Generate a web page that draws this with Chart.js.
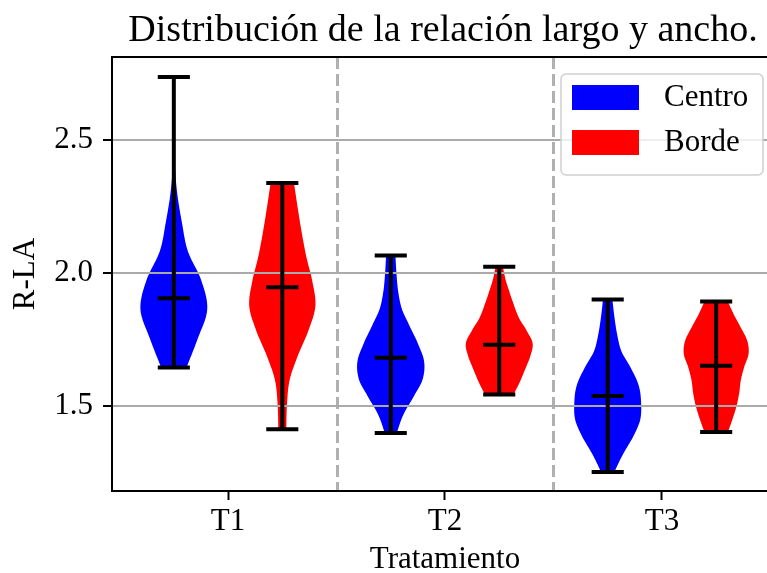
<!DOCTYPE html>
<html>
<head>
<meta charset="utf-8">
<script src="https://cdn.jsdelivr.net/npm/chart.js@4"></script>
<style>
  html, body { margin: 0; padding: 0; background: #fff; overflow: hidden; }
</style>
</head>
<body>
<canvas id="myChart" width="790" height="573"></canvas>
<script>
// datos
const treatments = ["T1", "T2", "T3"];
const treatmentX = [1, 2, 3];
const groups = ["Centro", "Borde"];

const yTicks = [1.5, 2.0, 2.5];

const centroMin = [1.644, 1.397, 1.250];
const centroMax = [2.739, 2.066, 1.900];
const centroMean = [1.905, 1.680, 1.536];

const bordeMin = [1.411, 1.542, 1.400];
const bordeMax = [2.339, 2.023, 1.892];
const bordeMean = [1.946, 1.729, 1.650];

// perfil de densidad (fraccion del ancho maximo), niveles de min a max
const levels = [0, 0.1, 0.2, 0.3, 0.4, 0.5, 0.6, 0.7, 0.8, 0.9, 1];
const densCentroT1 = [0.38, 0.72, 1.0, 0.82, 0.42, 0.24, 0.10, 0.03, 0.02, 0.02, 0.02];
const densCentroT2 = [0.18, 0.37, 0.67, 0.95, 1.0, 0.82, 0.57, 0.33, 0.22, 0.17, 0.14];
const densCentroT3 = [0.20, 0.45, 0.75, 0.97, 1.0, 0.93, 0.70, 0.41, 0.28, 0.20, 0.14];
const densBordeT1 = [0.12, 0.14, 0.22, 0.47, 0.78, 0.99, 0.90, 0.72, 0.58, 0.46, 0.35];
const densBordeT2 = [0.43, 0.62, 0.78, 0.93, 1.0, 0.82, 0.59, 0.44, 0.31, 0.19, 0.11];
const densBordeT3 = [0.35, 0.49, 0.61, 0.69, 0.74, 0.84, 0.97, 0.93, 0.74, 0.53, 0.35];

// estilo
const FONT = "'Liberation Serif', 'Times New Roman', serif";
const colors = ["#0000ff", "#ff0000"];
const groupOffset = 0.25;
const violinHalf = 0.154;
const capHalf = 0.074;

const violins = [];
treatments.forEach((t, i) => {
  violins.push({ pos: treatmentX[i] - groupOffset, min: centroMin[i], max: centroMax[i], mean: centroMean[i],
    dens: [densCentroT1, densCentroT2, densCentroT3][i], color: colors[0] });
  violins.push({ pos: treatmentX[i] + groupOffset, min: bordeMin[i], max: bordeMax[i], mean: bordeMean[i],
    dens: [densBordeT1, densBordeT2, densBordeT3][i], color: colors[1] });
});

// lineas negras: rango, extremos y media
const barPoints = [];
violins.forEach(v => {
  barPoints.push({ x: v.pos, y: v.min }, { x: v.pos, y: v.max }, { x: v.pos, y: null });
  [v.min, v.max, v.mean].forEach(val => {
    barPoints.push({ x: v.pos - capHalf, y: val }, { x: v.pos + capHalf, y: val }, { x: v.pos, y: null });
  });
});

function smooth(pts, steps) {
  const out = [];
  for (let i = 0; i < pts.length - 1; i++) {
    const p0 = pts[Math.max(i - 1, 0)], p1 = pts[i], p2 = pts[i + 1], p3 = pts[Math.min(i + 2, pts.length - 1)];
    for (let s = 0; s < steps; s++) {
      const t = s / steps, t2 = t * t, t3 = t2 * t;
      const f = k => 0.5 * (2 * p1[k] + (-p0[k] + p2[k]) * t + (2 * p0[k] - 5 * p1[k] + 4 * p2[k] - p3[k]) * t2 + (-p0[k] + 3 * p1[k] - 3 * p2[k] + p3[k]) * t3);
      out.push([f(0), Math.max(f(1), 0)]);
    }
  }
  out.push(pts[pts.length - 1]);
  return out;
}

const violinPlugin = {
  id: "violins",
  beforeDraw(chart) {
    const { ctx, chartArea: a, scales: { x, y } } = chart;
    ctx.save();
    ctx.beginPath();
    ctx.rect(a.left, a.top, a.right - a.left, a.bottom - a.top);
    ctx.clip();
    violins.forEach(v => {
      const pts = smooth(levels.map((t, k) => [t, v.dens[k]]), 10);
      ctx.beginPath();
      pts.forEach((p, k) => {
        const px = x.getPixelForValue(v.pos + p[1] * violinHalf);
        const py = y.getPixelForValue(v.min + p[0] * (v.max - v.min));
        if (k === 0) ctx.moveTo(px, py); else ctx.lineTo(px, py);
      });
      for (let k = pts.length - 1; k >= 0; k--) {
        const p = pts[k];
        ctx.lineTo(x.getPixelForValue(v.pos - p[1] * violinHalf), y.getPixelForValue(v.min + p[0] * (v.max - v.min)));
      }
      ctx.closePath();
      ctx.fillStyle = v.color;
      ctx.fill();
    });
    // separadores entre tratamientos
    ctx.setLineDash([12, 5]);
    ctx.strokeStyle = "#b0b0b0";
    ctx.lineWidth = 3;
    for (let i = 0; i < treatmentX.length - 1; i++) {
      const sx = Math.round(x.getPixelForValue((treatmentX[i] + treatmentX[i + 1]) / 2)) + 0.5;
      ctx.beginPath();
      ctx.moveTo(sx, a.top);
      ctx.lineTo(sx, a.bottom);
      ctx.stroke();
    }
    ctx.restore();
  },
  afterDraw(chart) {
    const { ctx, chartArea: a } = chart;
    ctx.save();
    // borde superior
    ctx.strokeStyle = "#000";
    ctx.lineWidth = 2;
    ctx.beginPath();
    ctx.moveTo(a.left - 1, a.top);
    ctx.lineTo(a.right, a.top);
    ctx.stroke();
    // titulo
    ctx.fillStyle = "#000";
    ctx.font = "38px " + FONT;
    ctx.textAlign = "center";
    ctx.textBaseline = "alphabetic";
    ctx.fillText("Distribución de la relación largo y ancho.", (a.left + a.right) / 2 - 2, 41);
    // leyenda
    const bw = 202, bh = 101;
    const bx = a.right - 15 - bw, by = a.top + 17;
    ctx.beginPath();
    ctx.roundRect(bx, by, bw, bh, 5);
    ctx.fillStyle = "rgba(255,255,255,0.8)";
    ctx.fill();
    ctx.strokeStyle = "#d0d0d0";
    ctx.lineWidth = 1.5;
    ctx.stroke();
    ctx.font = "31px " + FONT;
    ctx.textAlign = "left";
    ctx.textBaseline = "middle";
    groups.forEach((g, i) => {
      const py = by + 11 + i * 45;
      ctx.fillStyle = colors[i];
      ctx.fillRect(bx + 11, py, 67, 25);
      ctx.fillStyle = "#000";
      ctx.fillText(g, bx + 103, py + 13);
    });
    ctx.restore();
  }
};

const config = {
  type: "scatter",
  data: {
    datasets: [{
      data: barPoints,
      showLine: true,
      spanGaps: false,
      borderColor: "#000",
      borderWidth: 4,
      pointRadius: 0,
      pointHoverRadius: 0
    }]
  },
  options: {
    responsive: false,
    animation: false,
    events: [],
    layout: { padding: { top: 57, right: 12, left: 0, bottom: 0 } },
    plugins: { legend: { display: false }, tooltip: { enabled: false } },
    scales: {
      x: {
        type: "linear",
        min: 0.465,
        max: 3.535,
        afterBuildTicks: s => { s.ticks = treatmentX.map(v => ({ value: v })); },
        afterFit: s => { s.height = 82; },
        ticks: {
          callback: (v, i) => treatments[i],
          color: "#000",
          font: { family: FONT, size: 31 },
          padding: 3,
          maxRotation: 0,
          autoSkip: false
        },
        grid: { drawOnChartArea: false, drawTicks: true, tickLength: 9, tickColor: "#000", tickWidth: 2 },
        border: { display: true, color: "#000", width: 2 },
        title: { display: true, text: "Tratamiento", color: "#000", font: { family: FONT, size: 31 }, padding: { top: 0, bottom: -5 } }
      },
      y: {
        type: "linear",
        min: 1.178,
        max: 2.814,
        afterBuildTicks: s => { s.ticks = yTicks.map(v => ({ value: v })); },
        afterFit: s => { s.width = 112; },
        ticks: {
          callback: v => v.toFixed(1),
          color: "#000",
          font: { family: FONT, size: 31 },
          padding: 10
        },
        grid: { color: "#aaaaaa", lineWidth: 2, drawTicks: true, tickLength: 9, tickColor: "#000", tickWidth: 2 },
        border: { display: true, color: "#000", width: 2 },
        title: { display: true, text: "R-LA", color: "#000", font: { family: FONT, size: 31 }, padding: { top: 7, bottom: 0 } }
      }
    }
  },
  plugins: [violinPlugin]
};

const myChart = new Chart(document.getElementById("myChart"), config);
</script>
</body>
</html>
